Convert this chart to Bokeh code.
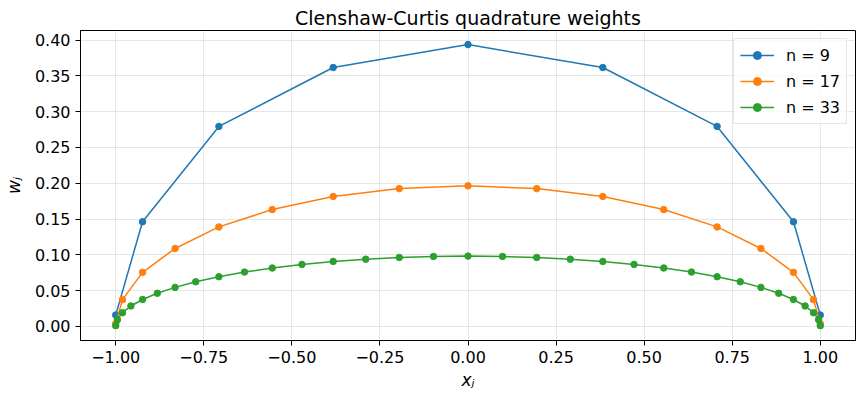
from bokeh.plotting import figure
from bokeh.models import FixedTicker, CustomJSTickFormatter
from bokeh.embed import file_html
from bokeh.resources import INLINE

# n = 9 nodes / weights
x9 = [-1.0, -0.9239, -0.7071, -0.3827, 0.0, 0.3827, 0.7071, 0.9239, 1.0]
w9 = [0.0159, 0.1462, 0.2794, 0.3617, 0.3937, 0.3617, 0.2794, 0.1462, 0.0159]

# n = 17
x17 = [-1.0, -0.9808, -0.9239, -0.8315, -0.7071, -0.5556, -0.3827, -0.1951, 0.0,
       0.1951, 0.3827, 0.5556, 0.7071, 0.8315, 0.9239, 0.9808, 1.0]
w17 = [0.0039, 0.0374, 0.0755, 0.1089, 0.1390, 0.1632, 0.1815, 0.1925, 0.1964,
       0.1925, 0.1815, 0.1632, 0.1390, 0.1089, 0.0755, 0.0374, 0.0039]

# n = 33
x33 = [-1.0, -0.9952, -0.9808, -0.9569, -0.9239, -0.8819, -0.8315, -0.7730, -0.7071,
       -0.6344, -0.5556, -0.4714, -0.3827, -0.2903, -0.1951, -0.0980, 0.0,
       0.0980, 0.1951, 0.2903, 0.3827, 0.4714, 0.5556, 0.6344, 0.7071,
       0.7730, 0.8315, 0.8819, 0.9239, 0.9569, 0.9808, 0.9952, 1.0]
w33 = [0.0010, 0.0094, 0.0192, 0.0285, 0.0376, 0.0463, 0.0545, 0.0623, 0.0694,
       0.0759, 0.0816, 0.0866, 0.0907, 0.0939, 0.0963, 0.0977, 0.0982,
       0.0977, 0.0963, 0.0939, 0.0907, 0.0866, 0.0816, 0.0759, 0.0694,
       0.0623, 0.0545, 0.0463, 0.0376, 0.0285, 0.0192, 0.0094, 0.0010]

xticks = [-1.0, -0.75, -0.5, -0.25, 0.0, 0.25, 0.5, 0.75, 1.0]
yticks = [0.0, 0.05, 0.1, 0.15, 0.2, 0.25, 0.3, 0.35, 0.4]

series = [("n = 9", x9, w9, "#1f77b4"),
          ("n = 17", x17, w17, "#ff7f0e"),
          ("n = 33", x33, w33, "#2ca02c")]

p = figure(width=857, height=395, output_backend="svg", toolbar_location=None,
           x_range=(-1.1, 1.1), y_range=(-0.0197, 0.4134),
           title="Clenshaw-Curtis quadrature weights",
           min_border_left=78, min_border_right=2, min_border_top=30, min_border_bottom=55)

for name, xs, ws, col in series:
    p.line(xs, ws, line_color=col, line_width=1.5, legend_label=name)
    p.scatter(xs, ws, size=6.5, fill_color=col, line_color=col, legend_label=name)

p.title.align = "center"
p.title.text_font = "DejaVu Sans"
p.title.text_font_size = "19px"
p.title.text_font_style = "normal"
p.title.text_color = "black"
p.title.offset = 0
p.title.standoff = 4

p.outline_line_color = "black"
p.outline_line_alpha = 1
p.outline_line_width = 1

# matplotlib-style minus sign in tick labels
fmt_code = "return tick.toFixed(2).replace('-', '\\u2212');"

for ax in (p.xaxis[0], p.yaxis[0]):
    ax.major_label_text_font = "DejaVu Sans"
    ax.major_label_text_font_size = "16px"
    ax.major_label_text_color = "black"
    ax.axis_label_text_font = "DejaVu Sans"
    ax.axis_label_text_font_size = "17px"
    ax.axis_label_text_font_style = "italic"
    ax.axis_label_text_color = "black"
    ax.major_tick_out = 5
    ax.major_tick_in = 0
    ax.minor_tick_out = 0
    ax.minor_tick_in = 0
    ax.axis_line_color = "black"
    ax.major_tick_line_color = "black"
    ax.formatter = CustomJSTickFormatter(code=fmt_code)

p.xaxis.ticker = FixedTicker(ticks=xticks)
p.yaxis.ticker = FixedTicker(ticks=yticks)
p.xaxis.axis_label = "xⱼ"
p.yaxis.axis_label = "wⱼ"
p.xaxis.axis_label_standoff = 4
p.yaxis.axis_label_standoff = 8

p.grid.grid_line_color = "#b0b0b0"
p.grid.grid_line_alpha = 0.3

p.legend.location = "top_right"
p.legend.margin = 8
p.legend.padding = 6
p.legend.spacing = 6
p.legend.label_standoff = 12
p.legend.glyph_width = 34
p.legend.label_text_font = "DejaVu Sans"
p.legend.label_text_font_size = "16px"
p.legend.label_text_color = "black"
p.legend.border_line_color = "#cccccc"
p.legend.background_fill_alpha = 0.8

open("out.html", "w").write(file_html(p, INLINE))
